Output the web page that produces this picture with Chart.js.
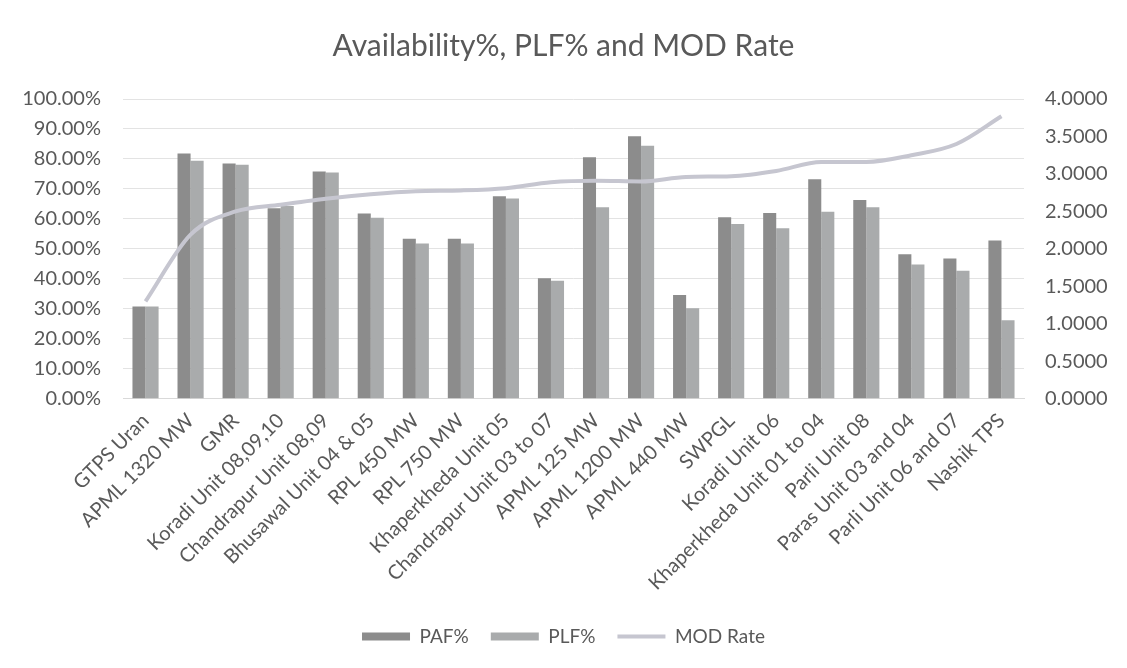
<!DOCTYPE html>
<html>
<head>
<meta charset="utf-8">
<script src="https://cdn.jsdelivr.net/npm/chart.js@4/dist/chart.umd.min.js"></script>
<style>
  html, body { margin: 0; padding: 0; background: #fff; }
  #wrap { width: 1127px; height: 668px; }
</style>
</head>
<body>
<div id="wrap"><canvas id="c"></canvas></div>
<script>
const stations = ["GTPS Uran", "APML 1320 MW", "GMR", "Koradi Unit 08,09,10", "Chandrapur Unit 08,09",
  "Bhusawal Unit 04 & 05", "RPL 450 MW", "RPL 750 MW", "Khaperkheda Unit 05", "Chandrapur Unit 03 to 07",
  "APML 125 MW", "APML 1200 MW", "APML 440 MW", "SWPGL", "Koradi Unit 06",
  "Khaperkheda Unit 01 to 04", "Parli Unit 08", "Paras Unit 03 and 04", "Parli Unit 06 and 07", "Nashik TPS"];

const paf = [30.8, 81.8, 78.5, 63.6, 75.8, 61.8, 53.4, 53.4, 67.6, 40.2,
  80.6, 87.6, 34.6, 60.6, 62.0, 73.2, 66.3, 48.2, 46.8, 52.8];
const plf = [30.8, 79.4, 78.1, 64.3, 75.5, 60.4, 51.8, 51.8, 66.8, 39.4,
  63.9, 84.4, 30.2, 58.3, 56.9, 62.4, 63.9, 44.8, 42.7, 26.2];
const modRate = [1.30, 2.19, 2.50, 2.59, 2.67, 2.73, 2.77, 2.78, 2.81, 2.89,
  2.91, 2.90, 2.96, 2.97, 3.04, 3.16, 3.16, 3.25, 3.40, 3.77];

const leftTicks = [0, 10, 20, 30, 40, 50, 60, 70, 80, 90, 100];
const rightTicks = [0, 0.5, 1, 1.5, 2, 2.5, 3, 3.5, 4];

const FONT = "Lato, 'Open Sans', sans-serif";
const txt = "#595959";

new Chart(document.getElementById("c"), {
  data: {
    labels: stations,
    datasets: [
      { type: "bar", label: "PAF%", data: paf, backgroundColor: "#8c8c8c",
        yAxisID: "y", order: 1, barPercentage: 1, categoryPercentage: 0.58 },
      { type: "bar", label: "PLF%", data: plf, backgroundColor: "#a9abac",
        yAxisID: "y", order: 1, barPercentage: 1, categoryPercentage: 0.58 },
      { type: "line", label: "MOD Rate", data: modRate, borderColor: "#c6c6d0",
        backgroundColor: "#c6c6d0", borderWidth: 4, pointRadius: 0,
        tension: 0.4, cubicInterpolationMode: "monotone", yAxisID: "y1", order: 0 }
    ]
  },
  options: {
    responsive: true,
    maintainAspectRatio: false,
    animation: false,
    layout: { padding: { left: 0, right: 0, top: 0, bottom: 12 } },
    plugins: {
      title: { display: true, text: "Availability%, PLF% and MOD Rate", color: txt,
        font: { family: FONT, size: 30, weight: "normal" }, padding: { top: 28, bottom: 35 } },
      legend: {
        position: "bottom",
        labels: {
          color: txt, font: { family: FONT, size: 19 },
          usePointStyle: true, pointStyleWidth: 48, boxHeight: 8, padding: 22,
          sort: (a, b) => a.datasetIndex - b.datasetIndex,
          generateLabels: chart => Chart.defaults.plugins.legend.labels.generateLabels(chart).map(l => {
            l.pointStyle = chart.data.datasets[l.datasetIndex].type === "line" ? "line" : "rect";
            return l;
          })
        }
      },
      tooltip: { enabled: false }
    },
    scales: {
      x: {
        grid: { display: false },
        border: { color: "#d9d9d9" },
        ticks: { color: txt, font: { family: FONT, size: 20 }, minRotation: 45, maxRotation: 45, autoSkip: false, padding: 2 },
        afterFit: s => { s.paddingLeft = 0; s.paddingRight = 0; s.height = s.height + 8; }
      },
      y: {
        position: "left", min: 0, max: 100,
        afterBuildTicks: s => { s.ticks = leftTicks.map(v => ({ value: v })); },
        afterFit: s => { s.width = 123; },
        grid: { color: "#e3e3e3", drawTicks: false },
        border: { display: false },
        ticks: { color: txt, font: { family: FONT, size: 20 }, padding: 22,
          callback: v => v.toFixed(2) + "%" }
      },
      y1: {
        position: "right", min: 0, max: 4,
        afterBuildTicks: s => { s.ticks = rightTicks.map(v => ({ value: v })); },
        afterFit: s => { s.width = 103; },
        grid: { display: false, drawTicks: false },
        border: { display: false },
        ticks: { color: txt, font: { family: FONT, size: 20 }, padding: 21,
          callback: v => v.toFixed(4) }
      }
    }
  }
});
</script>
</body>
</html>
